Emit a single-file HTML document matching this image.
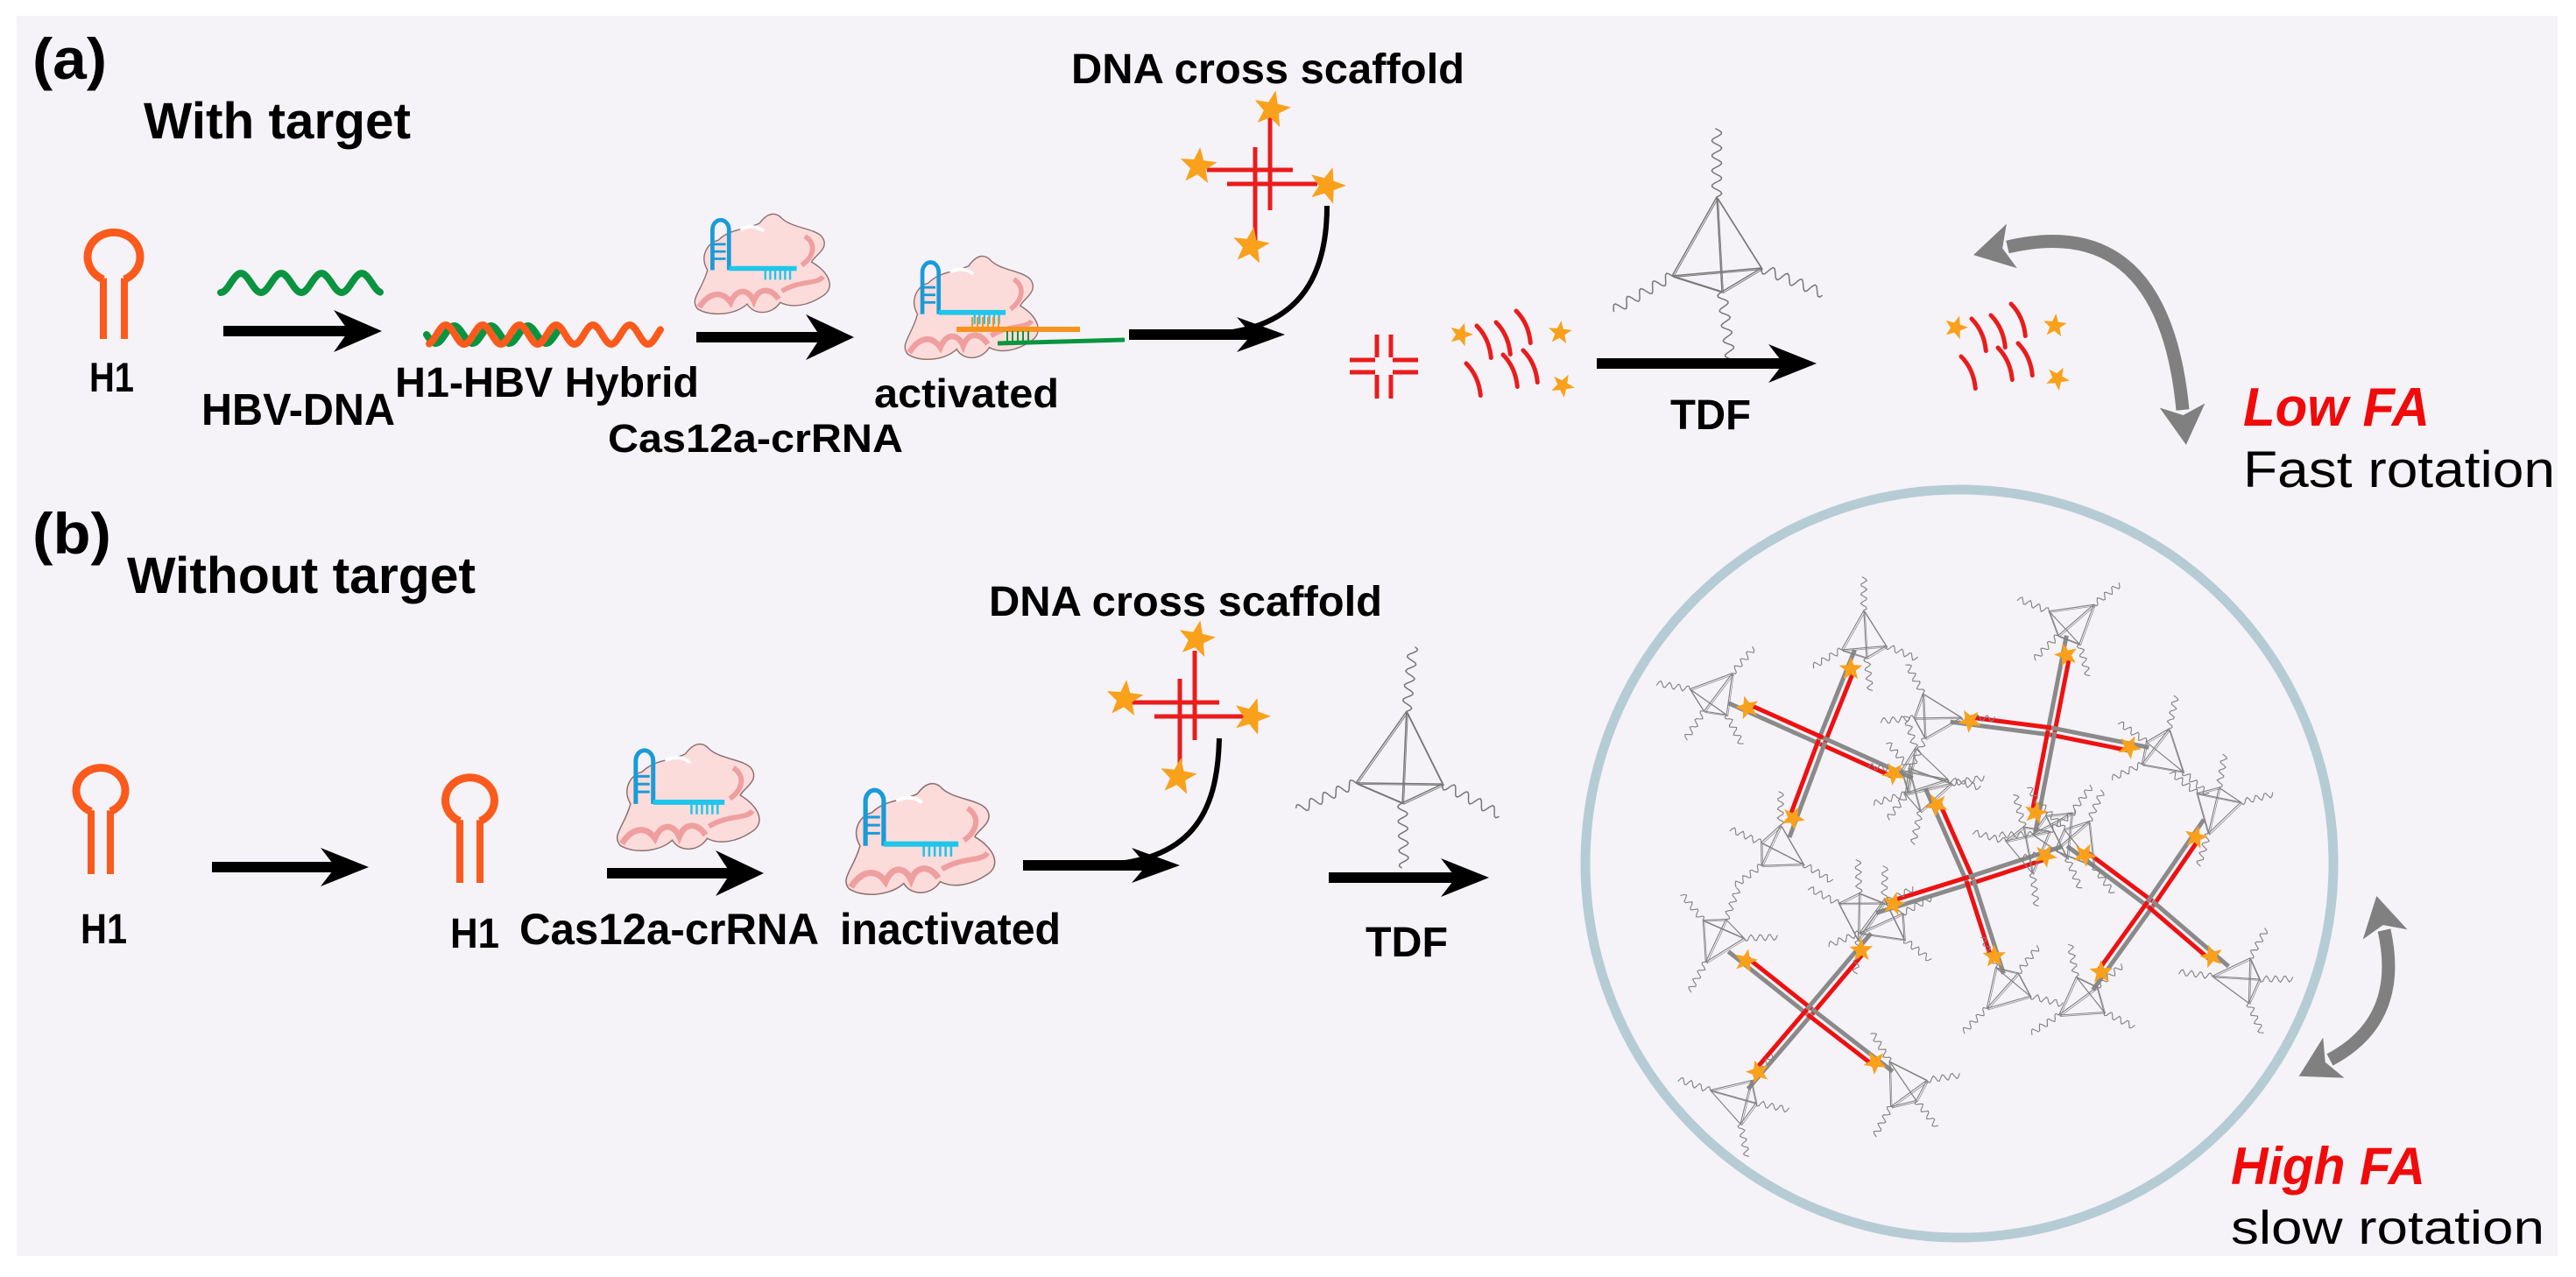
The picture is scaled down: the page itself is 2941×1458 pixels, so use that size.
<!DOCTYPE html>
<html><head><meta charset="utf-8">
<style>
html,body{margin:0;padding:0;background:#fff;}
svg{display:block;}
text{font-family:"Liberation Sans",Arial,sans-serif;font-weight:bold;fill:#000;}
</style></head>
<body>
<svg id="s" width="2941" height="1458" viewBox="0 0 2941 1458" xmlns="http://www.w3.org/2000/svg">
<rect x="0" y="0" width="2941" height="1458" fill="#ffffff"/>
<rect x="19" y="18" width="2901" height="1416" fill="#f5f3f8"/>
<g id="g"></g>
<circle cx="2237" cy="986" r="427" fill="none" stroke="#b6ccd5" stroke-width="11"/>
<g id="net"></g>
<text x="37" y="90" font-size="66" textLength="85" lengthAdjust="spacingAndGlyphs">(a)</text>
<text x="164" y="158" font-size="58" textLength="305" lengthAdjust="spacingAndGlyphs">With target</text>
<text x="102" y="447" font-size="47" textLength="51" lengthAdjust="spacingAndGlyphs">H1</text>
<text x="230" y="485" font-size="51" textLength="221" lengthAdjust="spacingAndGlyphs">HBV-DNA</text>
<text x="451" y="453" font-size="48" textLength="347" lengthAdjust="spacingAndGlyphs">H1-HBV Hybrid</text>
<text x="694" y="516" font-size="45" textLength="337" lengthAdjust="spacingAndGlyphs">Cas12a-crRNA</text>
<text x="998" y="465" font-size="46" textLength="211" lengthAdjust="spacingAndGlyphs">activated</text>
<text x="1223" y="95" font-size="48" textLength="449" lengthAdjust="spacingAndGlyphs">DNA cross scaffold</text>
<text x="1907" y="490" font-size="48" textLength="92" lengthAdjust="spacingAndGlyphs">TDF</text>
<text x="2561" y="486" font-size="62" font-style="italic" style="fill:#f00a0a" textLength="213" lengthAdjust="spacingAndGlyphs">Low FA</text>
<text x="2561" y="556" font-size="58" style="font-weight:normal" textLength="356" lengthAdjust="spacingAndGlyphs">Fast rotation</text>
<text x="37" y="632" font-size="66" textLength="90" lengthAdjust="spacingAndGlyphs">(b)</text>
<text x="145" y="677" font-size="58" textLength="398" lengthAdjust="spacingAndGlyphs">Without target</text>
<text x="1129" y="703" font-size="48" textLength="449" lengthAdjust="spacingAndGlyphs">DNA cross scaffold</text>
<text x="92" y="1077" font-size="48" textLength="53" lengthAdjust="spacingAndGlyphs">H1</text>
<text x="514" y="1082" font-size="48" textLength="56" lengthAdjust="spacingAndGlyphs">H1</text>
<text x="593" y="1078" font-size="50" textLength="342" lengthAdjust="spacingAndGlyphs">Cas12a-crRNA</text>
<text x="959" y="1078" font-size="50" textLength="252" lengthAdjust="spacingAndGlyphs">inactivated</text>
<text x="1559" y="1092" font-size="48" textLength="94" lengthAdjust="spacingAndGlyphs">TDF</text>
<text x="2547" y="1352" font-size="60" font-style="italic" style="fill:#f00a0a" textLength="222" lengthAdjust="spacingAndGlyphs">High FA</text>
<text x="2547" y="1420" font-size="54" style="font-weight:normal" textLength="358" lengthAdjust="spacingAndGlyphs">slow rotation</text>
</svg>
<script>
var o='';
function wave(x1,y1,x2,y2,amp,per,col,w,ph){
  ph=ph||0;var dx=x2-x1,dy=y2-y1,L=Math.hypot(dx,dy),ux=dx/L,uy=dy/L,nx=-uy,ny=ux,p=[];
  for(var t=0;t<=L;t+=2){var a=amp*Math.sin(2*Math.PI*t/per+ph);p.push((x1+ux*t+nx*a).toFixed(1)+','+(y1+uy*t+ny*a).toFixed(1));}
  o+='<polyline points="'+p.join(' ')+'" fill="none" stroke="'+col+'" stroke-width="'+w+'" stroke-linecap="round"/>';
}
function line(x1,y1,x2,y2,c,w){o+='<line x1="'+x1+'" y1="'+y1+'" x2="'+x2+'" y2="'+y2+'" stroke="'+c+'" stroke-width="'+w+'"/>';}
function arrow(x1,x2,y,hw){hw=hw||24;line(x1,y,x2-30,y,'#000',12);
  o+='<polygon points="'+x2+','+y+' '+(x2-55)+','+(y-hw)+' '+(x2-38)+','+y+' '+(x2-55)+','+(y+hw)+'" fill="#000"/>';}
function star(x,y,R,rot){rot=rot||0;var p=[];for(var i=0;i<10;i++){var r=i%2?R*0.42:R,a=rot+i*Math.PI/5-Math.PI/2;p.push((x+r*Math.cos(a)).toFixed(1)+','+(y+r*Math.sin(a)).toFixed(1));}
  o+='<polygon points="'+p.join(' ')+'" fill="#f9a11b"/>';}
function hairpin(cx,cy,rx,ry,l1,l2,yb){
  o+='<path d="M'+l1+','+(cy+ry*0.75)+' A'+rx+','+ry+' 0 1 1 '+l2+','+(cy+ry*0.75)+'" fill="none" stroke="#fb5a1c" stroke-width="9"/>';
  line(l1,cy+ry*0.7,l1,yb,'#fb5a1c',8);line(l2,cy+ry*0.7,l2,yb,'#fb5a1c',8);}
function protein(x,y,w,h){
  o+='<g transform="translate('+x+','+y+') scale('+(w/175)+','+(h/128)+')">';
  o+='<path d="M22,72 C12,55 22,38 35,35 C50,20 70,22 85,14 C95,0 105,0 112,8 C125,20 150,20 160,30 C172,45 150,55 148,62 C170,75 178,95 160,105 C145,115 125,120 110,112 C100,128 78,128 70,114 C55,128 25,130 10,120 C0,108 15,98 22,72 Z" fill="#fcdcdb" stroke="#8d7070" stroke-width="1.5"/>';
  o+='<path d="M12,118 C25,98 40,98 50,112 C58,93 72,96 78,110 C85,92 100,95 108,108" fill="none" stroke="#ef9f9f" stroke-width="7"/>';
  o+='<path d="M112,98 C135,84 155,90 162,80" fill="none" stroke="#ef9f9f" stroke-width="6"/>';
  o+='<path d="M140,30 C155,40 150,56 136,66" fill="none" stroke="#ef9f9f" stroke-width="6"/>';
  o+='<path d="M62,22 C72,16 84,18 90,24" fill="none" stroke="#fff" stroke-width="4"/>';
  o+='<path d="M28,72 L28,22 A10,12 0 1 1 48,22 L48,72" fill="none" stroke="#1a9bd7" stroke-width="5"/>';
  for(var k=0;k<3;k++)o+='<line x1="28" y1="'+(40+k*9)+'" x2="44" y2="'+(40+k*9)+'" stroke="#1a9bd7" stroke-width="3"/>';
  o+='<line x1="48" y1="70" x2="130" y2="70" stroke="#1fc6ea" stroke-width="6"/>';
  for(var k=0;k<6;k++)o+='<line x1="'+(92+k*6)+'" y1="70" x2="'+(92+k*6)+'" y2="84" stroke="#1fc6ea" stroke-width="2.5"/>';
  o+='</g>';}
function tetra(cx,cy,s,rot,col,sw){
  col=col||'#777';sw=sw||1.6;var V=[[0,-1],[-0.85,0.5],[0.85,0.35],[0.1,0.8]],P=[];
  var c=Math.cos(rot),sn=Math.sin(rot);
  for(var i=0;i<4;i++){var x=V[i][0]*s,y=V[i][1]*s;P.push([cx+x*c-y*sn,cy+x*sn+y*c]);}
  var E=[[0,1],[0,2],[0,3],[1,2],[1,3],[2,3]];
  for(var i=0;i<6;i++){var a=P[E[i][0]],b=P[E[i][1]];line(a[0].toFixed(1),a[1].toFixed(1),b[0].toFixed(1),b[1].toFixed(1),col,sw);
    line((a[0]+1.5).toFixed(1),(a[1]+1.5).toFixed(1),(b[0]+1.5).toFixed(1),(b[1]+1.5).toFixed(1),col,sw*0.6);}
  for(var i=0;i<4;i++){var dx=P[i][0]-cx,dy=P[i][1]-cy,L=Math.hypot(dx,dy);
    wave(P[i][0],P[i][1],P[i][0]+dx/L*s*1.3,P[i][1]+dy/L*s*1.3,s*0.07+1.5,s*0.22+4,col,sw);}
}
function frag(x,y,a){
  var dx=Math.cos(a)*40,dy=Math.sin(a)*40;
  o+='<path d="M'+x+','+y+' q'+(dx/2+6)+','+(dy/2-4)+' '+dx+','+dy+'" fill="none" stroke="#ea1c1c" stroke-width="5" stroke-linecap="round"/>';}
function fraggroup(x0,y0){
  var F=[[30,12],[52,8],[75,-5],[18,55],[60,45],[83,40]];
  for(var i=0;i<F.length;i++)frag(x0+F[i][0],y0+F[i][1],1.15);
  star(x0+12,y0+22,14,0.3);star(x0+125,y0+20,14,0.1);star(x0+128,y0+80,14,0.5);}
function grayArrow(x1,y1,cx,cy,x2,y2){
  o+='<path d="M'+x1+','+y1+' Q'+cx+','+cy+' '+x2+','+y2+'" fill="none" stroke="#808080" stroke-width="15"/>';
  function head(px,py,tx,ty){var L=Math.hypot(tx,ty),ux=tx/L,uy=ty/L,nx=-uy,ny=ux;
    o+='<polygon points="'+(px+ux*40)+','+(py+uy*40)+' '+(px+nx*26-ux*5)+','+(py+ny*26-uy*5)+' '+(px+ux*6)+','+(py+uy*6)+' '+(px-nx*26-ux*5)+','+(py-ny*26-uy*5)+'" fill="#808080"/>';}
  head(x1,y1,x1-cx,y1-cy);head(x2,y2,x2-cx,y2-cy);}

hairpin(130,298,30,28,118,142,387);
wave(252,323,434,323,11,46,'#0a9440',8,Math.PI/2);
arrow(255,436,378);
wave(487,382,640,382,10,42,'#0a9440',8,0);
wave(490,382,755,382,11,42,'#fb5a1c',8,Math.PI*0.6);
protein(787,242,165,118);
arrow(795,975,385,26);
protein(1027,290,163,122);
line(1092,376,1233,376,'#f7931e',6);
for(var k=0;k<6;k++)line(1110+k*6,362,1110+k*6,376,'#f7931e',2);
line(1139,392,1284,388,'#0a9440',5);
for(var k=0;k<5;k++)line(1150+k*6,378,1150+k*6,390,'#0a9440',2);
line(1433,168,1433,285,'#ea1c1c',5);line(1450,134,1450,240,'#ea1c1c',5);
line(1378,194,1476,194,'#ea1c1c',5);line(1401,210,1504,210,'#ea1c1c',5);
star(1452,125,22,0.2);star(1368,190,22,0.1);star(1515,212,22,0.3);star(1428,281,22,0.15);
o+='<path d="M1515,235 C1515,320 1480,380 1373,382" fill="none" stroke="#000" stroke-width="6"/>';
arrow(1289,1467,382,20);
line(1572,382,1572,408,'#ea1c1c',5);line(1588,382,1588,408,'#ea1c1c',5);
line(1572,428,1572,455,'#ea1c1c',5);line(1588,428,1588,455,'#ea1c1c',5);
line(1541,411,1570,411,'#ea1c1c',5);line(1590,411,1619,411,'#ea1c1c',5);
line(1541,425,1570,425,'#ea1c1c',5);line(1590,425,1619,425,'#ea1c1c',5);
fraggroup(1656,360);
tetra(1960,285,60,0,'#777',1.5);
arrow(1823,2074,415,22);
fraggroup(2221,352);
grayArrow(2292,282,2470,240,2492,468);

hairpin(117,907,28,26,104,126,998);
arrow(242,421,990,22);
hairpin(540,918,28,26,525,548,1008);
protein(698,847,174,126);
arrow(693,872,997,26);
protein(959,892,182,131);
arrow(1168,1347,988,20);
line(1347,775,1347,887,'#ea1c1c',5);line(1364,743,1364,845,'#ea1c1c',5);
line(1289,802,1392,802,'#ea1c1c',5);line(1318,818,1444,818,'#ea1c1c',5);
star(1366,730,22,0.2);star(1284,798,22,0.1);star(1429,818,22,0.3);star(1345,887,22,0.15);
o+='<path d="M1392,843 C1390,930 1360,985 1250,988" fill="none" stroke="#000" stroke-width="6"/>';
tetra(1600,870,58,0.1,'#777',1.5);
arrow(1517,1700,1002,22);
grayArrow(2722,1062,2745,1165,2660,1210);
document.getElementById('g').innerHTML=o;

o='';var C=[
 [2080,846,[[2113,764],[1995,808],[2162,883],[2047,934]]],
 [2342,835,[[2359,748],[2249,823],[2431,853],[2324,928]]],
 [2249,1005,[[2211,919],[2335,977],[2162,1032],[2277,1092]]],
 [2455,1032,[[2380,976],[2507,956],[2399,1110],[2525,1092]]],
 [2066,1155,[[1993,1097],[2125,1085],[2007,1224],[2141,1213]]]];
var tets=[];
for(var i=0;i<C.length;i++){var cx=C[i][0],cy=C[i][1],E=C[i][2];
 for(var j=0;j<4;j++){var ex=E[j][0],ey=E[j][1],dx=ex-cx,dy=ey-cy,L=Math.hypot(dx,dy),ux=dx/L,uy=dy/L,nx=-uy,ny=ux;
  line((cx-nx*4).toFixed(1),(cy-ny*4).toFixed(1),(ex+ux*22-nx*4).toFixed(1),(ey+uy*22-ny*4).toFixed(1),'#8a8a8a',5);
  line((cx+nx*4).toFixed(1),(cy+ny*4).toFixed(1),(ex+nx*4).toFixed(1),(ey+ny*4).toFixed(1),'#ee1111',5);
  tets.push([ex+ux*40,ey+uy*40,i*1.3+j]);
 }}
for(var i=0;i<tets.length;i++)tetra(tets[i][0],tets[i][1],30,tets[i][2]*0.7,'#808080',1.1);
for(var i=0;i<C.length;i++)for(var j=0;j<4;j++)star(C[i][2][j][0],C[i][2][j][1],14,i+j);
document.getElementById('net').innerHTML=o;
</script>
</body></html>
